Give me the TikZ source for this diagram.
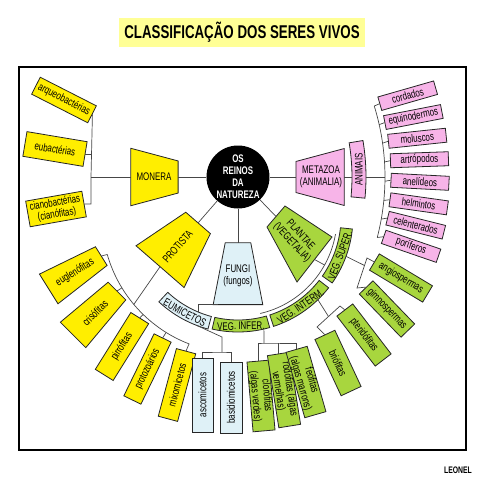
\documentclass[tikz,border=0pt]{standalone}
\usepackage{fontspec}
\setmainfont{Liberation Sans}[FakeStretch=0.72]
\usetikzlibrary{calc}
\definecolor{monyel}{RGB}{255,238,0}
\definecolor{anipink}{RGB}{247,180,232}
\definecolor{plagreen}{RGB}{168,214,62}
\definecolor{funblue}{RGB}{223,241,247}
\definecolor{titleyel}{RGB}{255,255,150}
\definecolor{linegray}{RGB}{70,70,70}

\begin{document}
\begin{tikzpicture}[x=1pt,y=1pt,
  lbl/.style={font=\fontsize{11}{11.5}\selectfont,align=center,inner sep=0pt},
  leafbox/.style={lbl,draw=black!85,line width=0.8pt,minimum width=58,minimum height=14},
  kingbox/.style={draw=black!85,line width=0.8pt},
  tie/.style={draw=linegray,line width=0.7pt}]
  \useasboundingbox (-238,-303) rectangle (242,177);
  \coordinate (rc) at (0,-40);
  \coordinate (fc) at (-93,0);

  \node[fill=titleyel,minimum width=246,minimum height=29,inner sep=0pt,font=\fontsize{18.5}{20}\selectfont\bfseries] (title) at (4,144.5) {CLASSIFICAÇÃO DOS SERES VIVOS};
  \draw[line width=2.2pt] (-219,-273) rectangle (228,110);
  \node[font=\fontsize{9.5}{10}\selectfont\bfseries] (author) at (220,-293) {LEONEL};

  % reinos
  \filldraw[kingbox,fill=monyel] (165:62)--(195:62)--(195:111)--(165:111)--cycle;
  \filldraw[kingbox,fill=anipink] (-15:60)--(15:60)--(15:110)--(-15:110)--cycle;
  \filldraw[kingbox,fill=funblue] (259:67)--(281:67)--(281:130)--(259:130)--cycle;
  \filldraw[kingbox,fill=monyel] (214:63)--(244:63)--(244:123)--(214:123)--cycle;
  \filldraw[kingbox,fill=plagreen] (47,-29)--(94,-60)--(59,-105)--(29,-50)--cycle;
  \node[lbl] (monera) at (180:84) {MONERA};
  \node[lbl] (metazoa) at (0:83) {METAZOA\\(ANIMALIA)};
  \node[lbl] (fungi) at (270:99) {FUNGI\\(fungos)};
  \node[lbl,rotate=49] (protista) at (229:92) {PROTISTA};
  \node[lbl,rotate=-47] (plantae) at (58,-62) {PLANTAE\\(VEGETALIA)};
  \node[circle,fill=black,minimum size=63,inner sep=0pt,text=white,align=center,
    font=\fontsize{11}{12}\selectfont\bfseries] (reinos) at (0,0) {OS\\REINOS\\DA\\NATUREZA};
  \coordinate (mon-i) at (-60,0);
  \coordinate (mon-o) at (-107.2,0);
  \coordinate (met-i) at (58,0);
  \coordinate (met-o) at (106.3,0);
  \coordinate (fun-i) at (0,-65.8);
  \coordinate (fun-b) at (-20,-127.6);
  \coordinate (pro-i) at (229:60.9);
  \coordinate (pro-o) at (229:118.8);
  \coordinate (pla-i) at (38,-39.5);
  \coordinate (pla-o) at (76.5,-82.5);
  \draw[tie] (reinos) -- (mon-i);
  \draw[tie] (reinos) -- (met-i);
  \draw[tie] (reinos) -- (fun-i);
  \draw[tie] (reinos) -- (pro-i);
  \draw[tie] (reinos) -- (pla-i);

  % monera
  \node[leafbox,fill=monyel,minimum width=63,minimum height=19,rotate=-27] (arq) at (-174,77) {arqueobactérias};
  \node[leafbox,fill=monyel,minimum width=61,minimum height=25,rotate=-9.5] (eub) at (-183,28) {eubactérias};
  \node[leafbox,fill=monyel,minimum width=57,minimum height=26,rotate=10] (cia) at (-182,-32) {cianobactérias\\(cianófitas)};
  \coordinate (mon-b) at (-147,0);
  \draw[tie] (mon-o) -- (mon-b);
  \draw[tie] (arq.east) -- (mon-b) -- (mon-b |- cia.east) -- (cia.east);
  \draw[tie] (eub.east) -- (eub.east -| mon-b);

  % metazoa
  \filldraw[kingbox,fill=anipink] ([shift={(fc)}]-5.5:207) arc[start angle=-5.5,end angle=9.5,radius=207]
    -- ([shift={(fc)}]9.5:221) arc[start angle=9.5,end angle=-5.5,radius=221] -- cycle;
  \node[lbl,rotate=90] (animais) at ([shift={(fc)}]2:214) {ANIMAIS};
  \coordinate (ani-i) at (114,0);
  \coordinate (ani-o) at (128,0);
  \coordinate (ani-b) at (147,0);
  \draw[tie] (met-o) -- (ani-i);
  \draw[tie] (ani-o) -- (ani-b);
  \node[leafbox,fill=anipink,rotate=16] (cor) at ([shift={(fc)}]17.2:275) {cordados};
  \node[leafbox,fill=anipink,rotate=11] (equ) at ([shift={(fc)}]12.6:275) {equinodermos};
  \node[leafbox,fill=anipink,rotate=6] (mol) at ([shift={(fc)}]8.1:275) {moluscos};
  \node[leafbox,fill=anipink,rotate=2] (art) at ([shift={(fc)}]3.6:275) {artrópodos};
  \node[leafbox,fill=anipink,rotate=-3] (ane) at ([shift={(fc)}]-1:275) {anelídeos};
  \node[leafbox,fill=anipink,rotate=-8] (hel) at ([shift={(fc)}]-5.6:275) {helmintos};
  \node[leafbox,fill=anipink,rotate=-14] (cel) at ([shift={(fc)}]-10.1:275) {celenterados};
  \node[leafbox,fill=anipink,rotate=-19] (por) at ([shift={(fc)}]-14.6:275) {poríferos};
  \draw[tie] ([shift={(fc)}]17.2:240) arc[start angle=17.2,end angle=-14.6,radius=240];
  \draw[tie] (cor.west) -- ([shift={(fc)}]17.2:240);
  \draw[tie] (equ.west) -- ([shift={(fc)}]12.6:240);
  \draw[tie] (mol.west) -- ([shift={(fc)}]8.1:240);
  \draw[tie] (art.west) -- ([shift={(fc)}]3.6:240);
  \draw[tie] (ane.west) -- ([shift={(fc)}]-1:240);
  \draw[tie] (hel.west) -- ([shift={(fc)}]-5.6:240);
  \draw[tie] (cel.west) -- ([shift={(fc)}]-10.1:240);
  \draw[tie] (por.west) -- ([shift={(fc)}]-14.6:240);

  % protista
  \begin{scope}[shift={(-163,-95.5)},rotate=32]
    \filldraw[kingbox,fill=monyel] (-31,-17.5)--(31,-11)--(31,11)--(-31,17.5)--cycle;
    \node[lbl,minimum width=62,rotate=32] (eug) at (0,0) {euglenófitas};
  \end{scope}
  \begin{scope}[shift={(-143,-136)},rotate=45]
    \filldraw[kingbox,fill=monyel] (-31,-18)--(31,-12.5)--(31,12.5)--(-31,18)--cycle;
    \node[lbl,minimum width=62,rotate=45] (cri) at (0,0) {crisófitas};
  \end{scope}
  \node[leafbox,fill=monyel,minimum width=67,minimum height=21,rotate=58] (pir) at (-116,-169.5) {pirrófitas};
  \node[leafbox,fill=monyel,minimum width=69,minimum height=19,rotate=64] (pro) at (-90.5,-192) {protozoários};
  \node[leafbox,fill=monyel,minimum width=70,minimum height=20,rotate=75] (mix) at (-61,-208) {mixomicetos};
  \coordinate (pro-j) at ([shift={(rc)}]220:136);
  \draw[tie] (pro-o) -- (pro-j);
  \draw[tie] ([shift={(rc)}]196:136) arc[start angle=196,end angle=249,radius=136];
  \draw[tie] (eug.east) -- ([shift={(rc)}]196:136);
  \draw[tie] (cri.east) -- ([shift={(rc)}]211.4:136);
  \draw[tie] (pir.east) -- ([shift={(rc)}]225.8:136);
  \draw[tie] (pro.east) -- ([shift={(rc)}]238.1:136);
  \draw[tie] (mix.east) -- ([shift={(rc)}]248.9:136);

  % fungi
  \filldraw[kingbox,fill=funblue] ([shift={(rc)}]227:103) arc[start angle=227,end angle=255,radius=103]
    -- ([shift={(rc)}]255:116) arc[start angle=255,end angle=227,radius=116] -- cycle;
  \node[lbl,rotate=-29] (eumicetos) at ([shift={(rc)}]241:109.5) {EUMICETOS};
  \node[leafbox,fill=funblue,minimum width=74,minimum height=21,rotate=90] (asc) at (-35.5,-218) {ascomicetos};
  \node[leafbox,fill=funblue,minimum width=71,minimum height=22,rotate=90] (bas) at (-7,-220.5) {basidiomicetos};
  \coordinate (eum-t) at (-40,-135);
  \coordinate (eum-o) at ([shift={(rc)}]249:116);
  \coordinate (eum-k) at (-16,-160);
  \coordinate (eum-j) at (-16,-175);
  \draw[tie] (fun-b) -| (eum-t);
  \draw[tie] (eum-o) -- (eum-k) -- (eum-j);
  \draw[tie] (asc.east) |- (eum-j) -| (bas.east);

  % plantae
  \filldraw[kingbox,fill=plagreen] ([shift={(rc)}]257:103) arc[start angle=257,end angle=286,radius=103]
    -- ([shift={(rc)}]286:115) arc[start angle=286,end angle=257,radius=115] -- cycle;
  \filldraw[kingbox,fill=plagreen] ([shift={(rc)}]288:103) arc[start angle=288,end angle=322,radius=103]
    -- ([shift={(rc)}]322:115) arc[start angle=322,end angle=288,radius=115] -- cycle;
  \filldraw[kingbox,fill=plagreen] ([shift={(rc)}]325:103) arc[start angle=325,end angle=354,radius=103]
    -- ([shift={(rc)}]354:115) arc[start angle=354,end angle=325,radius=115] -- cycle;
  \node[lbl,rotate=1.5] (inf) at ([shift={(rc)}]271.5:109) {VEG. INFER.};
  \node[lbl,rotate=35] (int) at ([shift={(rc)}]305:109) {VEG. INTERM.};
  \node[lbl,rotate=69.5] (sup) at ([shift={(rc)}]339.5:109) {VEG. SUPER.};
  \draw[tie] ([shift={(rc)}]283:99) arc[start angle=283,end angle=350,radius=99];
  \draw[tie] (pla-o) -- ([shift={(rc)}]331:99);

  \node[leafbox,fill=plagreen,minimum width=70,minimum height=22,rotate=-85] (clo) at (23,-219) {clorófitas\\(algas verdes)};
  \node[leafbox,fill=plagreen,minimum width=73,minimum height=22,rotate=-81] (rod) at (46,-213) {rodófitas (algas\\vermelhas)};
  \node[leafbox,fill=plagreen,minimum width=68,minimum height=22,rotate=-74] (feo) at (68,-205) {feófitas\\(algas marrons)};
  \node[leafbox,fill=plagreen,minimum width=62,minimum height=22,rotate=-65] (bri) at (100,-186) {briófitas};
  \node[leafbox,fill=plagreen,minimum width=63,minimum height=20,rotate=-52.5] (pte) at (126,-158) {pteridófitas};
  \node[leafbox,fill=plagreen,minimum width=60,minimum height=19,rotate=-46] (gim) at (149,-132) {gimnospermas};
  \node[leafbox,fill=plagreen,minimum width=62,minimum height=19,rotate=-31] (ang) at (163,-101) {angiospermas};

  \coordinate (inf-o) at ([shift={(rc)}]283:115);
  \coordinate (inf-j) at (26.1,-166);
  \draw[tie] (inf-o) -- (inf-j);
  \draw[tie] (clo.west) |- (inf-j) -| (feo.west);
  \draw[tie] (rod.west) -- (rod.west |- inf-j);

  \coordinate (int-o) at ([shift={(rc)}]314:115);
  \coordinate (int-a) at (79,-150);
  \coordinate (int-b) at (102,-129);
  \draw[tie] (int-o) -- ($(int-a)!0.5!(int-b)$);
  \draw[tie] (bri.west) -- (int-a) -- (int-b) -- (pte.west);

  \coordinate (sup-o) at ([shift={(rc)}]340:115);
  \coordinate (sup-a) at (119,-111);
  \coordinate (sup-b) at (129,-81);
  \draw[tie] (sup-o) -- ($(sup-a)!0.75!(sup-b)$);
  \draw[tie] (gim.west) -- (sup-a) -- (sup-b) -- (ang.west);
\end{tikzpicture}
\end{document}
